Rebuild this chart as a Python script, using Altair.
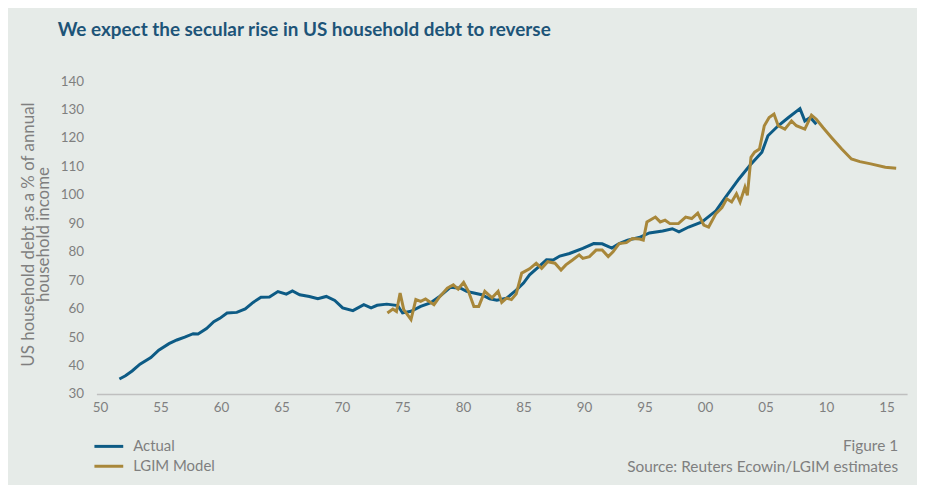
import altair as alt
import pandas as pd

# ---- data ----
actual_year = [1951.6, 1952.1, 1952.65, 1953.3, 1954.2, 1954.85, 1955.7, 1956.35, 1957.0, 1957.7,
               1958.1, 1958.8, 1959.4, 1959.9, 1960.5, 1961.3, 1962.0, 1962.65, 1963.3, 1964.0,
               1964.7, 1965.4, 1965.9, 1966.5, 1967.3, 1968.0, 1968.7, 1969.4, 1970.05, 1970.9,
               1971.8, 1972.4, 1972.9, 1973.7, 1974.6, 1975.0, 1975.7, 1976.5, 1977.3, 1978.0,
               1978.95, 1979.8, 1980.3, 1980.9, 1981.55, 1982.2, 1982.8, 1983.6, 1984.4, 1985.0,
               1985.5, 1986.2, 1986.9, 1987.45, 1988.0, 1988.8, 1989.9, 1990.8, 1991.5, 1992.3,
               1992.9, 1993.6, 1994.55, 1995.4, 1996.5, 1997.3, 1997.85, 1998.65, 1999.75, 2000.9,
               2001.7, 2002.8, 2003.7, 2004.7, 2005.2, 2006.05, 2006.9, 2007.85, 2008.25, 2008.7,
               2009.2]
actual_value = [35.3, 36.4, 38.1, 40.5, 42.8, 45.4, 47.7, 49.0, 50.0, 51.2,
                51.1, 53.0, 55.4, 56.6, 58.5, 58.7, 59.9, 62.2, 64.0, 64.1,
                66.0, 65.1, 66.2, 64.9, 64.3, 63.5, 64.3, 62.9, 60.3, 59.3,
                61.4, 60.3, 61.2, 61.6, 61.1, 58.5, 59.1, 60.8, 62.0, 64.1,
                67.5, 67.2, 66.1, 65.5, 64.9, 63.5, 63.0, 63.7, 66.5, 69.0,
                71.9, 74.5, 77.2, 77.1, 78.5, 79.4, 81.2, 82.9, 82.8, 81.3,
                82.9, 84.1, 85.0, 86.6, 87.3, 88.1, 87.0, 88.7, 90.5, 94.4,
                99.2, 105.6, 110.3, 115.0, 120.8, 124.3, 127.2, 130.3, 126.0, 127.2,
                124.8]

model_year = [1973.75, 1974.2, 1974.5, 1974.8, 1975.1, 1975.7, 1976.1, 1976.5, 1976.9, 1977.6,
              1978.0, 1978.7, 1979.2, 1979.6, 1980.05, 1980.45, 1980.9, 1981.3, 1981.8, 1982.4,
              1982.9, 1983.2, 1983.6, 1984.0, 1984.4, 1984.85, 1985.5, 1986.05, 1986.5, 1987.0,
              1987.6, 1988.1, 1988.5, 1989.05, 1989.6, 1989.9, 1990.45, 1991.0, 1991.5, 1992.0,
              1992.4, 1992.9, 1993.5, 1994.0, 1994.6, 1994.9, 1995.2, 1995.9, 1996.3, 1996.7,
              1997.1, 1997.8, 1998.4, 1998.9, 1999.4, 1999.9, 2000.3, 2000.9, 2001.4, 2001.8,
              2002.2, 2002.6, 2002.9, 2003.3, 2003.5, 2003.8, 2004.1, 2004.5, 2004.9, 2005.3,
              2005.7, 2006.05, 2006.6, 2007.15, 2007.55, 2008.25, 2008.8, 2009.2, 2009.75, 2010.45,
              2011.3, 2012.1, 2012.8, 2013.7, 2014.9, 2015.8]
model_value = [58.5, 59.9, 59.0, 65.5, 59.7, 56.2, 63.2, 62.6, 63.4, 61.4,
               63.8, 67.2, 68.4, 66.9, 69.2, 66.1, 60.8, 60.8, 66.1, 63.8,
               66.1, 62.2, 63.7, 63.2, 65.2, 72.5, 74.0, 76.0, 74.2, 76.5,
               76.0, 73.6, 75.4, 77.1, 78.9, 77.7, 78.3, 80.6, 80.6, 78.3,
               80.0, 82.9, 83.2, 84.7, 84.5, 84.1, 90.5, 92.2, 90.5, 91.1,
               89.9, 89.9, 92.2, 91.7, 93.6, 89.4, 88.7, 93.4, 95.5, 98.6,
               97.5, 100.4, 97.5, 102.7, 99.8, 113.2, 115.0, 116.1, 124.3, 127.2,
               128.4, 124.3, 123.1, 126.0, 124.3, 123.1, 128.0, 126.6, 123.7, 120.2,
               116.1, 112.6, 111.7, 110.9, 109.7, 109.4]

series_names = ["Actual", "LGIM Model"]
series_colors = ["#0D5B85", "#A8873A"]
x_ticks = [1950, 1955, 1960, 1965, 1970, 1975, 1980, 1985, 1990, 1995, 2000, 2005, 2010, 2015]
y_ticks = [30, 40, 50, 60, 70, 80, 90, 100, 110, 120, 130, 140]
title_text = "We expect the secular rise in US household debt to reverse"
y_title = ["US household debt as a % of annual", "household income"]
notes = ["Figure 1", "Source: Reuters Ecowin/LGIM estimates"]

df = pd.concat([
    pd.DataFrame({"year": actual_year, "value": actual_value, "series": series_names[0], "order": 0}),
    pd.DataFrame({"year": model_year, "value": model_value, "series": series_names[1], "order": 1}),
])

BG = "#E6EBE8"
GRAY = "#7F7F7F"
FONT = "Lato"

lines = alt.Chart(df).mark_line(strokeWidth=3).encode(
    x=alt.X("year:Q",
            scale=alt.Scale(domain=[1949.7, 2016.7], nice=False, zero=False),
            axis=alt.Axis(values=x_ticks, title=None, grid=False, ticks=False,
                          labelExpr="slice('0' + (datum.value % 100), -2)",
                          labelColor=GRAY, labelFont=FONT, labelFontSize=13.5,
                          labelPadding=7, domainColor="#BFBFBF", domainWidth=1.5,
                          labelFlush=False)),
    y=alt.Y("value:Q",
            scale=alt.Scale(domain=[30, 140], nice=False, zero=False),
            axis=alt.Axis(values=y_ticks, title=y_title, grid=False, ticks=False, domain=False,
                          labelColor=GRAY, labelFont=FONT, labelFontSize=13.5, labelPadding=13,
                          titleColor=GRAY, titleFont=FONT, titleFontSize=17,
                          titleFontWeight="normal", titleLineHeight=15,
                          titleX=-59, titleY=154, titleAngle=-90,
                          titleAlign="center", titleBaseline="bottom")),
    color=alt.Color("series:N",
                    scale=alt.Scale(domain=series_names, range=series_colors),
                    legend=None),
    order=alt.Order("order:Q"),
    detail="series:N",
)

# legend drawn by hand (two rows, 20px apart)
legend_layers = []
for i, (name, col) in enumerate(zip(series_names, series_colors)):
    ly = 367.7 + 20 * i
    legend_layers.append(
        alt.Chart(pd.DataFrame({"name": [name]})).mark_rule(strokeWidth=3, color=col).encode(
            x=alt.value(-2), x2=alt.value(27), y=alt.value(ly)))
    legend_layers.append(
        alt.Chart(pd.DataFrame({"name": [name]})).mark_text(
            align="left", baseline="middle", font=FONT, fontSize=15, color=GRAY
        ).encode(text="name:N", x=alt.value(37), y=alt.value(ly)))

note_layers = []
for i, t in enumerate(notes):
    note_layers.append(
        alt.Chart(pd.DataFrame({"text": [t]})).mark_text(
            align="right", baseline="middle", font=FONT, fontSize=15.5, color=GRAY
        ).encode(text="text:N", x=alt.value(807), y=alt.value(367 + 21 * i)))

chart = alt.layer(lines, *legend_layers, *note_layers).properties(
    width=816, height=315,
    background=BG,
    padding={"left": 89, "top": 72, "right": 10, "bottom": 90},
    autosize=alt.AutoSizeParams(type="none"),
    title=alt.TitleParams(title_text, anchor="start", frame="group", dx=-39, offset=34,
                          font=FONT, fontSize=19, fontWeight="bold", color="#1D5478"),
).configure_view(stroke=None)

chart.save("out.html", embed_options={"renderer": "svg", "actions": False})
